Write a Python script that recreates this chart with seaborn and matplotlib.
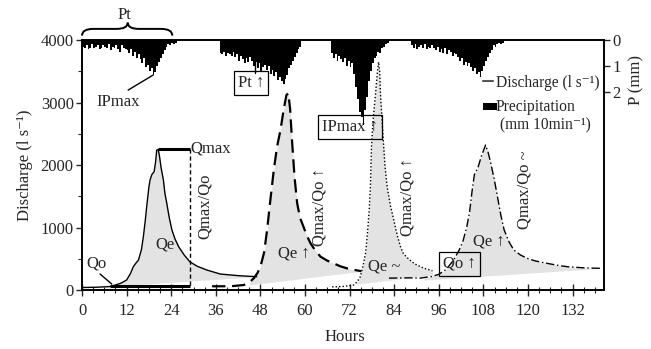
import numpy as np
import matplotlib
matplotlib.use('Agg')
import matplotlib.pyplot as plt
from matplotlib.path import Path
from matplotlib.patches import PathPatch, Rectangle
import matplotlib.transforms as mtransforms
from matplotlib.ticker import MultipleLocator
import seaborn as sns

# ---------------- data ----------------
# Discharge hydrographs (hours, l/s)
t1 = [0, 4, 7.5, 9, 10.5, 12, 13, 13.8, 14.5, 15.2, 16, 16.5, 17, 17.4, 18, 18.3, 18.8, 19.4, 19.8,
      20.1, 20.5, 20.8, 21.3, 21.9, 22.3, 22.8, 23.5, 24.2, 25, 26, 27.5, 29, 31, 33.6, 37.2, 42, 47]
q1 = [40, 45, 55, 80, 110, 160, 260, 373, 430, 480, 650, 853, 1100, 1333, 1650, 1760, 1850, 1893, 2050,
      2240, 2250, 2160, 1950, 1760, 1550, 1390, 1150, 960, 820, 693, 560, 453, 380, 320, 256, 230, 213]

t2 = [35, 40, 43.5, 45, 46.2, 47.2, 48, 49, 49.8, 50.7, 51.6, 52.5, 53.4, 54.3, 55, 55.5, 56, 56.5,
      57.2, 57.9, 58.7, 59.6, 60.5, 61.5, 62.8, 64.2, 66, 67.7, 69.5, 71.3, 73, 74.5, 75.2]
q2 = [60, 60, 80, 120, 187, 270, 373, 600, 960, 1450, 1920, 2300, 2560, 2900, 3120, 3150, 2900, 2400,
      1800, 1387, 1150, 1013, 870, 747, 630, 533, 470, 427, 380, 347, 325, 309, 300]

t3 = [67.3, 70, 73.1, 74, 74.9, 75.6, 76.3, 76.8, 77.3, 77.6, 77.9, 78.3, 79, 79.5, 79.8, 80.1, 80.3,
      80.9, 81.5, 82.1, 83, 83.9, 84.8, 85.7, 86.5, 87.5, 88.4, 89.5, 91.1, 92.5, 94.3]
q3 = [50, 55, 80, 130, 213, 380, 587, 900, 1300, 1653, 2300, 2700, 3150, 3500, 3650, 3500, 3150,
      2560, 2000, 1653, 1350, 1120, 880, 693, 580, 520, 470, 420, 373, 340, 309]

t4 = [82.6, 88, 91, 92, 94, 96, 98, 100, 101.5, 102.5, 103.5, 104.3, 105, 105.6, 106.5, 107.5, 108.6,
      109.3, 110, 111, 111.8, 112.7, 113.6, 115, 116.2, 118, 119.8, 122, 125.2, 128, 130.6, 135, 139.6]
q4 = [190, 195, 190, 200, 215, 250, 330, 480, 640, 780, 1000, 1250, 1600, 1850, 1950, 2150, 2320,
      2200, 2030, 1750, 1490, 1200, 960, 760, 640, 560, 507, 465, 427, 395, 373, 355, 347]

# shaded event-water area: (start h, end h, baseline Q at start, baseline Q at end)
fill1 = (8, 47, 60, 213)
fill2 = (45, 75.2, 80, 300)
fill3 = (74, 94.3, 95, 240)
fill4 = (92, 139.6, 160, 345)

# Precipitation, 30-min totals (mm), first interval start hour
p1_start = 0.0
p1 = [0.25, 0.3, 0.2, 0.35, 0.3, 0.15, 0.3, 0.25, 0.2, 0.35, 0.3, 0.2, 0.25,
      0.3, 0.15, 0.4, 0.25, 0.3, 0.2, 0.35, 0.45, 0.2, 0.3, 0.35,
      0.4, 0.5, 0.35, 0.6, 0.45, 0.7, 0.55,
      0.75, 0.9, 0.7, 1.05, 0.95, 1.2, 1.1, 1.35,
      1.25, 1.0, 0.85, 0.7, 0.55, 0.4,
      0.25, 0.15, 0.2, 0.1, 0.15, 0.1]
p2_start = 37.0
p2 = [0.5, 0.55, 0.45, 0.6, 0.5, 0.55, 0.6, 0.45,
      0.65, 0.55, 0.8, 0.6, 0.75, 0.9, 0.7, 0.85, 0.65,
      0.8, 1.0, 0.85, 1.1, 0.9, 1.2, 1.05, 0.95, 1.15,
      1.0, 1.3, 1.15, 1.4, 1.25, 1.55, 1.45, 1.6, 1.7,
      1.5, 1.35, 1.1, 0.95, 0.8, 0.65, 0.5, 0.35, 0.25]
p3_start = 67.0
p3 = [0.5, 0.7, 0.55, 0.8, 0.6, 0.75,
      0.85, 0.7, 1.0, 0.8, 1.05, 0.9,
      1.3, 1.8, 2.3, 2.8,
      3.0, 3.3, 2.7, 2.2,
      1.6, 1.2, 0.9, 0.7,
      0.6, 0.45, 0.5, 0.3, 0.25, 0.15, 0.1]
p4_start = 88.5
p4 = [0.2, 0.3, 0.15, 0.35, 0.25, 0.2, 0.3, 0.15, 0.35, 0.25, 0.3, 0.2,
      0.3, 0.4, 0.25, 0.45, 0.35, 0.5, 0.3, 0.55, 0.4, 0.45, 0.6, 0.5, 0.55,
      0.65, 0.8, 0.7, 0.95, 0.85, 1.0, 0.9,
      1.05, 1.2, 1.1, 1.3, 1.25, 1.45,
      1.2, 1.0, 0.8, 0.65, 0.5, 0.4,
      0.2, 0.25, 0.15, 0.1, 0.15, 0.1]
p_step = 0.5

x_ticks = [0, 12, 24, 36, 48, 60, 72, 84, 96, 108, 120, 132]
y_ticks = [0, 1000, 2000, 3000, 4000]
p_ticks = [0, 1, 2]

# ---------------- style ----------------
sns.set_style('ticks')
plt.rcParams['font.family'] = ['Liberation Serif', 'DejaVu Serif']
plt.rcParams['font.size'] = 12
plt.rcParams['axes.linewidth'] = 1.2
FS = 12
FL = 11.2

fig = plt.figure(figsize=(6.51, 3.49), dpi=100)
ax = fig.add_axes([0.126, 0.169, 0.802, 0.716])
ax2 = ax.twinx()

# shaded areas
for (t, q, f) in [(t1, q1, fill1), (t2, q2, fill2), (t3, q3, fill3), (t4, q4, fill4)]:
    ta = np.array(t, float)
    qa = np.array(q, float)
    m = (ta >= f[0]) & (ta <= f[1])
    base = np.interp(ta[m], [f[0], f[1]], [f[2], f[3]])
    ax.fill_between(ta[m], base, qa[m], color='#e3e3e3', lw=0, zorder=1)

# hydrographs
sns.lineplot(x=t1, y=q1, ax=ax, color='black', lw=1.0, zorder=3)
sns.lineplot(x=t2, y=q2, ax=ax, color='black', lw=1.6, linestyle=(0, (6, 3)), zorder=3)
sns.lineplot(x=t3, y=q3, ax=ax, color='black', lw=1.0, linestyle=(0, (1, 1.5)), zorder=3)
sns.lineplot(x=t4, y=q4, ax=ax, color='black', lw=1.0, linestyle=(0, (6, 2, 1, 2)), zorder=3)

# event-1 definitions
ax.plot([20.5, 29], [2250, 2250], color='black', lw=2.2, solid_capstyle='butt', zorder=4)
ax.plot([29, 29], [2250, 60], color='black', lw=1.0, linestyle=(0, (3, 2)), zorder=4)
ax.plot([7.5, 29], [60, 60], color='black', lw=2.2, solid_capstyle='butt', zorder=4)
ax.plot([4.85, 8.0], [256, 96], color='black', lw=1.0, zorder=4)

ax.set_xlim(0, 140.5)
ax.set_ylim(0, 4000)
ax.set_xticks(x_ticks)
ax.set_yticks(y_ticks)
ax.xaxis.set_minor_locator(MultipleLocator(3))
ax.yaxis.set_minor_locator(MultipleLocator(500))
ax.tick_params(axis='x', which='major', direction='inout', length=8, width=1.0, pad=5, labelsize=FS)
ax.tick_params(axis='x', which='minor', direction='inout', length=5, width=0.8)
ax.tick_params(axis='y', which='major', direction='out', length=4, width=1.0, pad=2, labelsize=FS)
ax.tick_params(axis='y', which='minor', direction='out', length=3, width=0.8)
ax.set_xlabel('Hours', fontsize=FS)
ax.xaxis.set_label_coords(0.504, -0.155)
ax.set_ylabel('Discharge (l s⁻¹)', fontsize=FS)
ax.yaxis.set_label_coords(-0.094, 0.5)
for s in ax.spines.values():
    s.set_color('black')

# precipitation bars (hanging from top)
for start, vals in [(p1_start, p1), (p2_start, p2), (p3_start, p3), (p4_start, p4)]:
    xs = start + p_step * np.arange(len(vals))
    ax2.bar(xs, vals, width=p_step, align='edge', color='black', linewidth=0, zorder=2)
ax2.set_ylim(9.7, 0)
ax2.set_yticks(p_ticks)
ax2.tick_params(axis='y', direction='out', length=4, width=1.0, pad=2, labelsize=FS)
ax2.set_ylabel('P (mm)', fontsize=FS, rotation=90)
ax2.yaxis.set_label_coords(1.046, 0.84)
for s in ax2.spines.values():
    s.set_color('black')
ax2.set_xlim(0, 140.5)

# brace over first rain event
tb = mtransforms.blended_transform_factory(ax.transData, ax.transAxes)
x0, x1 = 0.0, 24.3
xm = 12.3
yb, yp, yt = 1.018, 1.045, 1.07
verts = [(x0, yb), (x0, yp), (x0 + 3, yp), (xm - 3, yp), (xm, yp), (xm, yt),
         (xm, yp), (xm + 3, yp), (x1 - 3, yp), (x1, yp), (x1, yb)]
codes = [Path.MOVETO, Path.CURVE3, Path.CURVE3, Path.LINETO, Path.CURVE3, Path.CURVE3,
         Path.CURVE3, Path.CURVE3, Path.LINETO, Path.CURVE3, Path.CURVE3]
ax.add_patch(PathPatch(Path(verts, codes), transform=tb, fill=False, lw=1.4,
                       color='black', clip_on=False))
ax.text(11.5, 1.10, 'Pt', transform=tb, ha='center', va='center', fontsize=FS)

# annotations
ax.text(9.7, 3008, 'IPmax', ha='center', va='center', fontsize=FS, zorder=5)
ax.plot([12.4, 19.1], [3200, 3440], color='black', lw=1.0, zorder=5)
ax.text(29.2, 2270, 'Qmax', ha='left', va='center', fontsize=FS)
ax.text(33.0, 1340, 'Qmax/Qo', rotation=90, ha='center', va='center', fontsize=FS)
ax.text(22.4, 735, 'Qe', ha='center', va='center', fontsize=FS, zorder=5)
ax.text(3.8, 430, 'Qo', ha='center', va='center', fontsize=FS)

box = dict(boxstyle='square,pad=0.25', facecolor='none', edgecolor='black', lw=0.9)
ax.text(45.5, 3312, 'Pt ↑', ha='center', va='center', fontsize=FS, bbox=box, zorder=5)
ax.plot([46.6, 46.6], [3480, 3700], color='black', lw=1.0, zorder=5)
ax.text(56.9, 590, 'Qe ↑', ha='center', va='center', fontsize=FS, zorder=5)
ax.text(64.0, 1330, 'Qmax/Qo ↑', rotation=90, ha='center', va='center', fontsize=FS)

ax.text(72.2, 2608, 'IPmax ↑', ha='center', va='center', fontsize=FS, bbox=box, zorder=5)
ax.text(81.4, 370, 'Qe ~', ha='center', va='center', fontsize=FS, zorder=5)
ax.text(87.6, 1490, 'Qmax/Qo ↑', rotation=90, ha='center', va='center', fontsize=FS)

ax.text(101.6, 420, 'Qo ↑', ha='center', va='center', fontsize=FS, bbox=box, zorder=5)
ax.text(109.4, 770, 'Qe ↑', ha='center', va='center', fontsize=FS, zorder=5)
ax.text(119.0, 1600, 'Qmax/Qo ~', rotation=90, ha='center', va='center', fontsize=FS)

# legend (hand-drawn)
ax.plot([107.8, 110.5], [3340, 3340], color='#555555', lw=1.5, zorder=5)
ax.text(111.4, 3312, 'Discharge (l s⁻¹)', ha='left', va='center', fontsize=FL, zorder=5)
ax.add_patch(Rectangle((107.8, 2880), 3.8, 112, color='black', lw=0, zorder=5))
ax.text(111.4, 2928, 'Precipitation', ha='left', va='center', fontsize=FL, zorder=5)
ax.text(112.6, 2640, '(mm 10min⁻¹)', ha='left', va='center', fontsize=FL, zorder=5)

fig.savefig('out.png', dpi=100)
